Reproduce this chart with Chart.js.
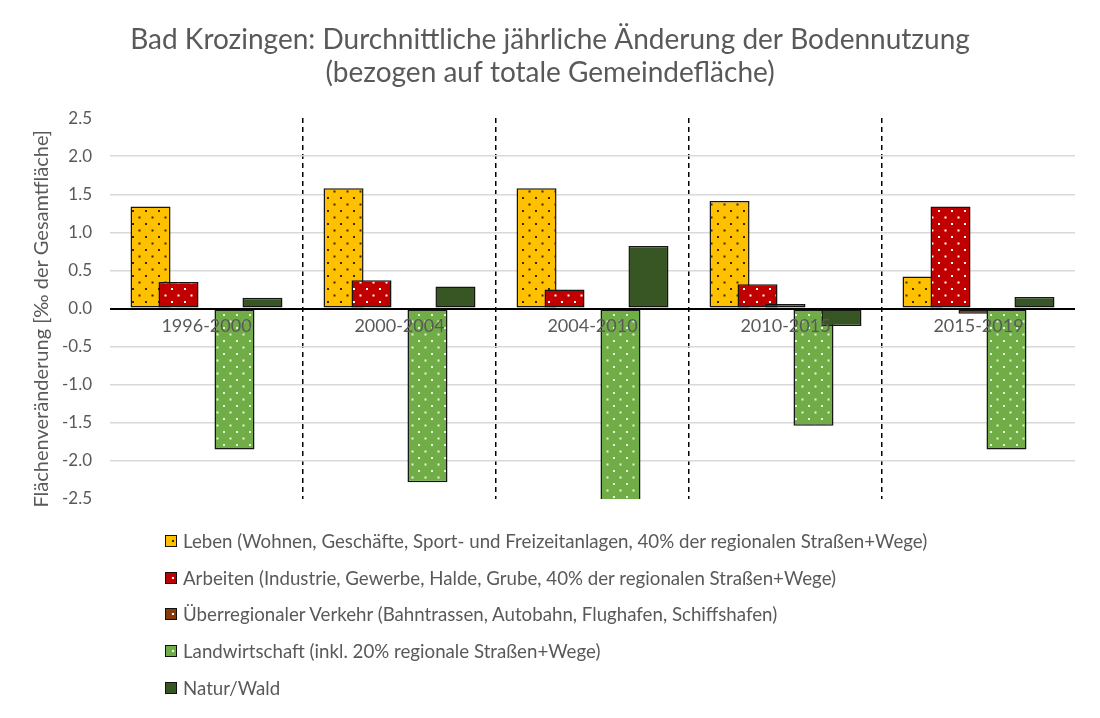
<!DOCTYPE html>
<html>
<head>
<meta charset="utf-8">
<script src="https://cdn.jsdelivr.net/npm/chart.js@4/dist/chart.umd.min.js"></script>
<style>
  html, body { margin: 0; padding: 0; background: #fff; }
  #wrap { position: relative; width: 1100px; height: 718px; }
  #legend { position: absolute; left: 165px; top: 523px; font-family: Lato, sans-serif; font-size: 18.7px; color: #595959; }
  #legend .row { height: 36.6px; display: flex; align-items: center; }
  #legend .sw { width: 10px; height: 10px; border: 1px solid #111; margin-right: 6px; flex: none; }
</style>
</head>
<body>
<div id="wrap">
  <canvas id="chart" width="1100" height="718"></canvas>
  <div id="legend"></div>
</div>
<script>
// periods
const periods = ['1996-2000', '2000-2004', '2004-2010', '2010-2015', '2015-2019'];

// series values (‰ of total area per year)
const leben = [1.34, 1.58, 1.58, 1.41, 0.42];
const arbeiten = [0.35, 0.37, 0.25, 0.32, 1.34];
const verkehr = [0, 0, 0, 0.06, -0.07];
const landwirtschaft = [-1.85, -2.28, -2.58, -1.54, -1.85];
const natur = [0.14, 0.29, 0.82, -0.23, 0.15];

const seriesNames = [
  'Leben (Wohnen, Geschäfte, Sport- und Freizeitanlagen, 40% der regionalen Straßen+Wege)',
  'Arbeiten (Industrie, Gewerbe, Halde, Grube, 40% der regionalen Straßen+Wege)',
  'Überregionaler Verkehr (Bahntrassen, Autobahn, Flughafen, Schiffshafen)',
  'Landwirtschaft (inkl. 20% regionale Straßen+Wege)',
  'Natur/Wald'
];
const yTicks = [2.5, 2.0, 1.5, 1.0, 0.5, 0.0, -0.5, -1.0, -1.5, -2.0, -2.5];

const GRAY = '#595959';
const FONT = 'Lato, sans-serif';

// dotted fill like the Excel 5% pattern
function dots(bg, dot) {
  if (!dot) return bg;
  const c = document.createElement('canvas');
  c.width = 13; c.height = 13;
  const g = c.getContext('2d');
  g.fillStyle = bg;
  g.fillRect(0, 0, 13, 13);
  g.fillStyle = dot;
  g.fillRect(2, 2, 2, 2);
  g.fillRect(8.5, 8.5, 2, 2);
  return g.createPattern(c, 'repeat');
}

const styles = [
  { bg: '#FFC000', dot: '#3a2a00' },
  { bg: '#C00000', dot: '#ffffff' },
  { bg: '#843C0C', dot: '#ffffff' },
  { bg: '#70AD47', dot: '#e8f5dc' },
  { bg: '#375623', dot: null }
];
const values = [leben, arbeiten, verkehr, landwirtschaft, natur];

// draw datasets left to right so the later bar overlaps the earlier one
const drawOrder = {
  id: 'drawOrder',
  beforeDatasetsDraw(chart) {
    const ctx = chart.ctx, a = chart.chartArea;
    ctx.save();
    ctx.beginPath();
    ctx.rect(a.left, a.top, a.right - a.left, a.bottom - a.top);
    ctx.clip();
    chart.getSortedVisibleDatasetMetas().forEach(m => m.controller.draw());
    ctx.restore();
    return false;
  }
};

new Chart(document.getElementById('chart'), {
  type: 'bar',
  data: {
    labels: periods,
    datasets: values.map((v, i) => ({
      label: seriesNames[i],
      data: v,
      backgroundColor: dots(styles[i].bg, styles[i].dot),
      borderColor: '#151515',
      borderWidth: 1.5,
      borderSkipped: false,
      barPercentage: 1.43,
      categoryPercentage: 0.725
    }))
  },
  options: {
    responsive: false,
    animation: false,
    layout: { padding: { left: 0, right: 0, top: 0, bottom: 219 } },
    plugins: {
      legend: { display: false },
      tooltip: { enabled: false },
      title: {
        display: true,
        text: ['Bad Krozingen: Durchnittliche jährliche Änderung der Bodennutzung', '(bezogen auf totale Gemeindefläche)'],
        color: GRAY,
        font: { family: FONT, size: 28, weight: 'normal', lineHeight: 1.18 },
        padding: { top: 23, bottom: 29 }
      }
    },
    scales: {
      x: {
        position: { y: 0 },
        offset: true,
        border: { display: false, dash: [5, 4] },
        grid: {
          offset: true,
          drawTicks: false,
          lineWidth: 1.5,
          color: ctx => (ctx.index === 0 || ctx.index == null) ? 'rgba(0,0,0,0)' : '#000'
        },
        ticks: { z: 1, color: GRAY, font: { family: FONT, size: 18 }, padding: 7 }
      },
      y: {
        min: yTicks[yTicks.length - 1],
        max: yTicks[0],
        afterBuildTicks: s => { s.ticks = yTicks.map(v => ({ value: v })); },
        afterFit: s => { s.width = 110; },
        border: { display: false },
        grid: {
          drawTicks: false,
          lineWidth: ctx => ctx.tick && ctx.tick.value === 0 ? 2 : 1.5,
          color: ctx => {
            if (!ctx.tick) return '#d9d9d9';
            if (ctx.tick.value === 0) return '#000';
            if (Math.abs(ctx.tick.value) === 2.5) return 'rgba(0,0,0,0)';
            return '#d9d9d9';
          }
        },
        ticks: {
          color: GRAY,
          font: { family: FONT, size: 17 },
          padding: 18,
          callback: v => Number(v).toFixed(1)
        },
        title: {
          display: true,
          text: 'Flächenveränderung [‰ der Gesamtfläche]    ',
          color: GRAY,
          font: { family: FONT, size: 20 },
          padding: { top: 30, bottom: 0 }
        }
      },
      // empty right-hand spacer so the title stays centred on the page
      spacer: {
        type: 'linear',
        position: 'right',
        display: true,
        grid: { display: false },
        border: { display: false },
        ticks: { display: false },
        afterFit: s => { s.width = 25; }
      }
    }
  },
  plugins: [drawOrder]
});

// legend as text rows under the chart
const lg = document.getElementById('legend');
seriesNames.forEach((name, i) => {
  const row = document.createElement('div');
  row.className = 'row';
  const sw = document.createElement('span');
  sw.className = 'sw';
  sw.style.background = styles[i].dot
    ? `radial-gradient(circle at 70% 50%, ${styles[i].dot} 0 1.2px, transparent 1.6px), ${styles[i].bg}`
    : styles[i].bg;
  const tx = document.createElement('span');
  tx.textContent = name;
  row.appendChild(sw);
  row.appendChild(tx);
  lg.appendChild(row);
});
</script>
</body>
</html>
